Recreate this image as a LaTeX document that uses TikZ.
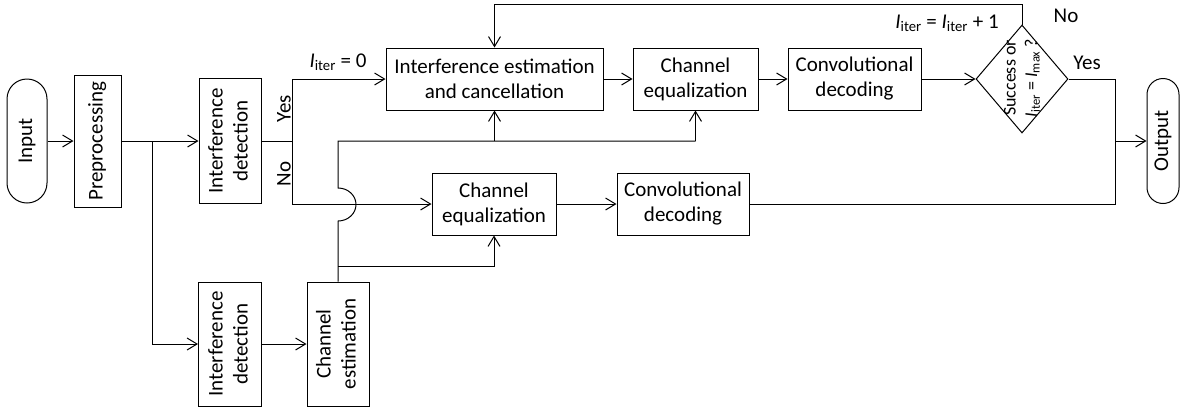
\documentclass[tikz,border=0pt]{standalone}
\usepackage{fontspec}
\setmainfont{Carlito}
\usetikzlibrary{arrows.meta,shapes.geometric}
\newcommand{\vtxt}[1]{\rotatebox{90}{\begin{tabular}{@{}c@{}}#1\end{tabular}}}
\newcommand{\Iit}{\textit{I}\textsubscript{iter}}
\begin{document}
\begin{tikzpicture}[x=1pt,y=-1pt,
  line width=1pt,
  every node/.style={font=\fontsize{21}{25}\selectfont, inner sep=0pt},
  box/.style={draw, rectangle, align=center},
  term/.style={draw, rectangle, rounded corners=#1},
  arr/.style={-{Straight Barb[length=10pt,width=12pt]}},
  lbl/.style={font=\fontsize{21}{25}\selectfont}
]
\useasboundingbox (0,0) rectangle (1180,413);
% nodes
\node[term=20pt, minimum width=40pt, minimum height=124pt] (in) at (27,141) {\vtxt{Input}};
\node[box, minimum width=47pt, minimum height=132pt] (pre) at (97.5,141) {\vtxt{Preprocessing}};
\node[box, minimum width=62pt, minimum height=125pt] (idet1) at (230,141) {\vtxt{Interference\\detection}};
\node[box, minimum width=63pt, minimum height=124pt] (idet2) at (230,344) {\vtxt{Interference\\detection}};
\node[box, minimum width=62pt, minimum height=124pt] (cest) at (338,344) {\vtxt{Channel\\estimation}};
\node[box, minimum width=217pt, minimum height=62pt] (iec) at (494.5,79) {Interference estimation\\and cancellation};
\node[box, minimum width=125pt, minimum height=62pt] (ceq1) at (695.5,79) {Channel\\equalization};
\node[box, minimum width=133pt, minimum height=62pt] (cd1) at (854.5,79) {Convolutional\\decoding};
\node[box, minimum width=124pt, minimum height=62pt] (ceq2) at (494,204) {Channel\\equalization};
\node[box, minimum width=132pt, minimum height=62pt] (cd2) at (683,204) {Convolutional\\decoding};
\node[draw, diamond, minimum width=92pt, minimum height=108pt, aspect=0.85] (dia) at (1022,79) {};
\node[font=\fontsize{18}{21.5}\selectfont] (diatxt) at (1022,78) {\vtxt{Success or\\\Iit{} = \textit{I}\textsubscript{max} ?}};
\node[term=16pt, minimum width=32pt, minimum height=125pt] (out) at (1163,141) {\vtxt{Output}};
% coordinates
\coordinate (j1) at (152,141);
\coordinate (yn) at (292,141);
\coordinate (cj) at (338,141);
\coordinate (cj2) at (338,266);
\coordinate (hb) at (338,221);
\coordinate (fb) at (1022,4);
\coordinate (yj) at (1115,141);
% connectors
\draw[arr] (in) -- (pre);
\draw[arr] (pre.east) -- (idet1.west);
\draw[arr] (j1) |- (idet2.west);
\draw (idet1.east) -- (yn);
\draw[arr] (yn) |- (iec.west);
\draw[arr] (yn) |- (ceq2.west);
\draw[arr] (idet2.east) -- (cest.west);
\draw (cest.north) -- (hb) arc[start angle=-90, end angle=90, x radius=18pt, y radius=16.5pt] -- (cj) -- (ceq1.south |- cj);
\draw[arr] (iec.south |- cj) -- (iec.south);
\draw[arr] (ceq1.south |- cj) -- (ceq1.south);
\draw[arr] (cj2) -| (ceq2.south);
\draw[arr] (iec.east) -- (ceq1.west);
\draw[arr] (ceq1.east) -- (cd1.west);
\draw[arr] (cd1.east) -- (dia.west);
\draw[arr] (dia.north) -- (fb) -| (iec.north);
\draw (dia.east) -| (yj);
\draw (cd2.east) -| (yj);
\draw[arr] (yj) -- (out.west);
\draw[arr] (ceq2.east) -- (cd2.west);
% labels
\node[lbl, rotate=90] (yes1) at (284,109) {Yes};
\node[lbl, rotate=90] (no1) at (284,174) {No};
\node[lbl] (it0) at (338,62) {\Iit{} = 0};
\node[lbl] (it1) at (947,23) {\Iit{} = \Iit{} + 1};
\node[lbl] (no2) at (1066,16) {No};
\node[lbl] (yes2) at (1087,63) {Yes};
\end{tikzpicture}
\end{document}
